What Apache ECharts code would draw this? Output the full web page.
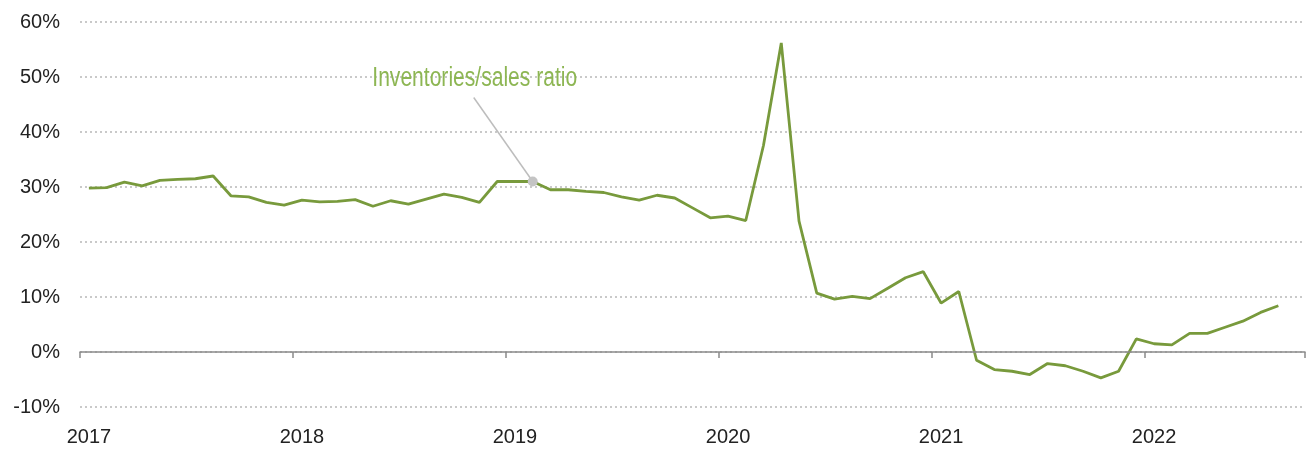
<!DOCTYPE html>
<html>
<head>
<meta charset="utf-8">
<script src="https://cdn.jsdelivr.net/npm/echarts@6/dist/echarts.min.js"></script>
<style>
html,body{margin:0;padding:0;background:#fff;}
#chart{width:1312px;height:449px;}
</style>
</head>
<body>
<div id="chart"></div>
<script>
// Months Jan 2017 .. Sep 2022 (last category has no value)
const years = [2017, 2018, 2019, 2020, 2021, 2022];
const months = [];
years.forEach(function (y) {
  for (let m = 1; m <= 12; m++) {
    if (y === 2022 && m > 9) break;
    months.push(y + '-' + (m < 10 ? '0' + m : m));
  }
});

// Inventories/sales ratio, y/y % change
const ratio2017 = [29.8, 29.9, 30.9, 30.2, 31.2, 31.4, 31.5, 32.0, 28.4, 28.2, 27.2, 26.7];
const ratio2018 = [27.6, 27.3, 27.4, 27.7, 26.5, 27.5, 26.9, 27.8, 28.7, 28.1, 27.2, 31.0];
const ratio2019 = [31.0, 31.0, 29.5, 29.5, 29.2, 29.0, 28.2, 27.6, 28.5, 28.0, 26.2, 24.4];
const ratio2020 = [24.7, 23.9, 37.6, 56.2, 23.8, 10.7, 9.6, 10.1, 9.7, 11.6, 13.5, 14.6];
const ratio2021 = [8.9, 11.0, -1.5, -3.2, -3.5, -4.1, -2.1, -2.5, -3.5, -4.7, -3.5, 2.4];
const ratio2022 = [1.5, 1.3, 3.4, 3.4, 4.5, 5.6, 7.2, 8.4, null];
const ratio = [].concat(ratio2017, ratio2018, ratio2019, ratio2020, ratio2021, ratio2022);

const yTicks = [-10, 0, 10, 20, 30, 40, 50, 60];
const annotationText = 'Inventories/sales ratio';
const annotationIndex = 25; // Feb 2019

const chart = echarts.init(document.getElementById('chart'), null, { renderer: 'canvas' });

const labelFont = 'Liberation Sans, Arial, sans-serif';

const option = {
  animation: false,
  backgroundColor: '#ffffff',
  grid: { left: 80, right: 7, top: 22, bottom: 42, containLabel: false, outerBoundsMode: 'none' },
  xAxis: [
    {
      // axis line + ticks on the zero line
      type: 'category',
      data: months,
      boundaryGap: true,
      axisLine: { onZero: true, lineStyle: { color: '#8a8a8a', width: 1.5 } },
      axisTick: { show: true, interval: 11, length: 6, lineStyle: { color: '#8a8a8a', width: 1.5 } },
      axisLabel: { show: false },
      splitLine: { show: false },
      z: 5
    },
    {
      // year labels at the bottom of the plot
      type: 'category',
      data: months,
      boundaryGap: true,
      position: 'bottom',
      axisLine: { show: false, onZero: false },
      axisTick: { show: false },
      axisLabel: {
        interval: 11,
        margin: 20,
        color: '#222222',
        fontSize: 20,
        fontFamily: labelFont,
        formatter: function (v) { return v.slice(0, 4); }
      },
      splitLine: { show: false }
    }
  ],
  yAxis: {
    type: 'value',
    min: yTicks[0],
    max: yTicks[yTicks.length - 1],
    interval: 10,
    axisLine: { show: false },
    axisTick: { show: false },
    axisLabel: {
      margin: 20,
      color: '#222222',
      fontSize: 20,
      fontFamily: labelFont,
      formatter: '{value}%'
    },
    splitLine: { show: true, lineStyle: { color: '#b8b8b8', width: 1.5, type: [2, 3] } }
  },
  series: [{
    name: annotationText,
    type: 'line',
    xAxisIndex: 0,
    data: ratio,
    showSymbol: false,
    symbol: 'none',
    lineStyle: { color: '#789a3c', width: 2.8 },
    itemStyle: { color: '#789a3c' },
    z: 3
  }]
};
chart.setOption(option);

const p = chart.convertToPixel({ gridIndex: 0 }, [months[annotationIndex], ratio[annotationIndex]]);
chart.setOption({
  graphic: [
    {
      type: 'line', z: 10,
      shape: { x1: p[0] - 59, y1: p[1] - 84, x2: p[0], y2: p[1] },
      style: { stroke: '#bdbdbd', lineWidth: 1.5 }
    },
    {
      type: 'circle', z: 11,
      shape: { cx: p[0], cy: p[1], r: 5 },
      style: { fill: '#c4c4c4' }
    },
    {
      type: 'text', z: 11,
      x: p[0] - 58, y: p[1] - 103,
      scaleX: 0.78,
      style: {
        text: annotationText,
        fill: '#8db653',
        font: '27px "Liberation Sans", Arial, sans-serif',
        align: 'center',
        verticalAlign: 'middle'
      }
    }
  ]
});
</script>
</body>
</html>
